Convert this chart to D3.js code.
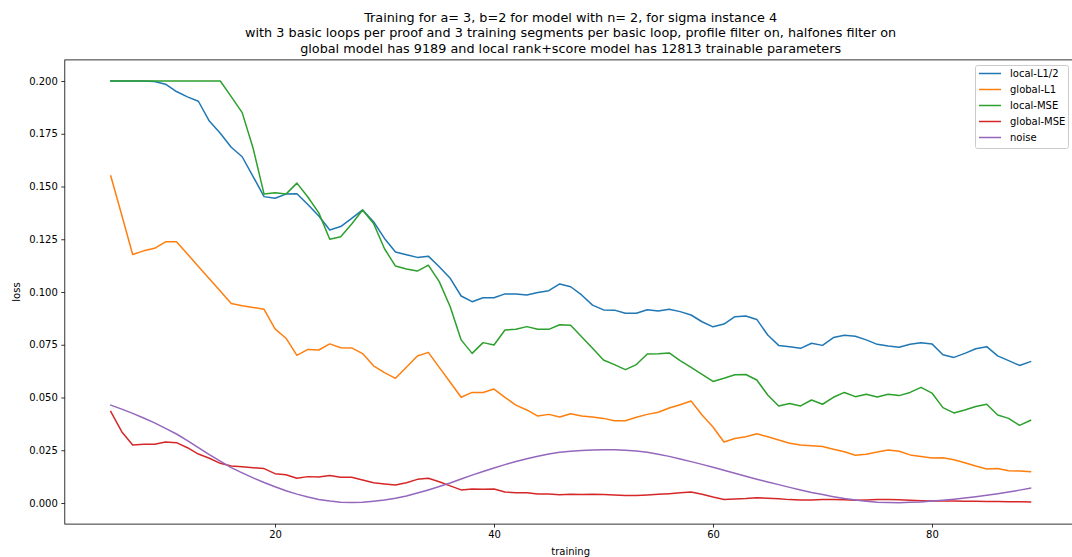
<!DOCTYPE html>
<html><head><meta charset="utf-8">
<script src="https://cdn.jsdelivr.net/npm/d3@7"></script>
<style>
html,body{margin:0;padding:0;background:#fff;overflow:hidden}
svg{display:block;font-family:"DejaVu Sans",sans-serif}
</style></head><body>
<svg id="chart" width="1072" height="557"></svg>
<script>
const titleLines = [
  "Training for a= 3, b=2 for model with n= 2, for sigma instance 4",
  "with 3 basic loops per proof and 3 training segments per basic loop, profile filter on, halfones filter on",
  "global model has 9189 and local rank+score model has 12813 trainable parameters"
];
const xLabel = "training";
const yLabel = "loss";
const steps = [5,6,7,8,9,10,11,12,13,14,15,16,17,18,19,20,21,22,23,24,25,26,27,28,29,30,31,32,33,34,35,36,37,38,39,40,41,42,43,44,45,46,47,48,49,50,51,52,53,54,55,56,57,58,59,60,61,62,63,64,65,66,67,68,69,70,71,72,73,74,75,76,77,78,79,80,81,82,83,84,85,86,87,88,89];
const localL12 = [0.2000,0.2000,0.2000,0.2000,0.1998,0.1985,0.1950,0.1925,0.1904,0.1810,0.1752,0.1686,0.1641,0.1547,0.1452,0.1444,0.1464,0.1466,0.1415,0.1360,0.1294,0.1310,0.1349,0.1389,0.1333,0.1254,0.1190,0.1177,0.1164,0.1170,0.1120,0.1065,0.0981,0.0954,0.0973,0.0973,0.0991,0.0991,0.0986,0.0998,0.1006,0.1038,0.1025,0.0986,0.0938,0.0915,0.0914,0.0899,0.0899,0.0916,0.0910,0.0918,0.0907,0.0891,0.0859,0.0835,0.0848,0.0883,0.0886,0.0870,0.0796,0.0747,0.0741,0.0733,0.0757,0.0747,0.0784,0.0795,0.0790,0.0773,0.0752,0.0744,0.0738,0.0752,0.0760,0.0754,0.0703,0.0690,0.0709,0.0731,0.0741,0.0697,0.0675,0.0652,0.0670];
const globalL1 = [0.1550,0.1365,0.1178,0.1195,0.1207,0.1238,0.1238,0.1180,0.1121,0.1063,0.1005,0.0946,0.0935,0.0927,0.0918,0.0825,0.0781,0.0700,0.0728,0.0725,0.0754,0.0736,0.0735,0.0708,0.0650,0.0618,0.0591,0.0643,0.0697,0.0714,0.0643,0.0572,0.0501,0.0524,0.0524,0.0540,0.0501,0.0464,0.0441,0.0412,0.0420,0.0408,0.0423,0.0412,0.0408,0.0401,0.0390,0.0390,0.0406,0.0420,0.0430,0.0450,0.0466,0.0483,0.0417,0.0360,0.0289,0.0306,0.0314,0.0328,0.0314,0.0299,0.0283,0.0275,0.0271,0.0268,0.0255,0.0243,0.0226,0.0231,0.0242,0.0251,0.0245,0.0228,0.0220,0.0213,0.0214,0.0205,0.0191,0.0175,0.0161,0.0164,0.0153,0.0152,0.0148];
const localMSE = [0.2000,0.2000,0.2000,0.2000,0.2000,0.2000,0.2000,0.2000,0.2000,0.2000,0.2000,0.1926,0.1850,0.1681,0.1464,0.1470,0.1464,0.1516,0.1450,0.1375,0.1250,0.1262,0.1322,0.1389,0.1325,0.1205,0.1123,0.1109,0.1099,0.1127,0.1049,0.0930,0.0773,0.0709,0.0760,0.0749,0.0820,0.0823,0.0836,0.0823,0.0823,0.0845,0.0842,0.0788,0.0733,0.0678,0.0656,0.0632,0.0656,0.0706,0.0707,0.0711,0.0675,0.0643,0.0610,0.0576,0.0591,0.0608,0.0609,0.0583,0.0512,0.0460,0.0472,0.0460,0.0488,0.0468,0.0501,0.0524,0.0504,0.0515,0.0502,0.0515,0.0509,0.0524,0.0548,0.0521,0.0452,0.0427,0.0441,0.0457,0.0468,0.0417,0.0401,0.0368,0.0392];
const globalMSE = [0.0433,0.0338,0.0275,0.0278,0.0278,0.0289,0.0286,0.0262,0.0232,0.0212,0.0188,0.0175,0.0172,0.0167,0.0163,0.0139,0.0134,0.0117,0.0125,0.0123,0.0130,0.0122,0.0122,0.0109,0.0096,0.0090,0.0085,0.0096,0.0112,0.0117,0.0101,0.0081,0.0062,0.0066,0.0065,0.0066,0.0052,0.0049,0.0049,0.0043,0.0043,0.0039,0.0041,0.0040,0.0041,0.0040,0.0038,0.0035,0.0036,0.0038,0.0041,0.0044,0.0048,0.0052,0.0041,0.0028,0.0017,0.0019,0.0021,0.0025,0.0023,0.0020,0.0016,0.0014,0.0014,0.0016,0.0016,0.0015,0.0013,0.0014,0.0016,0.0017,0.0015,0.0013,0.0011,0.0010,0.0009,0.0009,0.0008,0.0008,0.0007,0.0007,0.0006,0.0006,0.0005];
const noise = [0.0464,0.0445,0.0425,0.0403,0.0380,0.0354,0.0327,0.0296,0.0262,0.0229,0.0198,0.0168,0.0143,0.0119,0.0097,0.0077,0.0058,0.0042,0.0028,0.0017,0.0009,0.0004,0.0002,0.0003,0.0008,0.0014,0.0022,0.0033,0.0047,0.0062,0.0078,0.0095,0.0114,0.0132,0.0149,0.0166,0.0182,0.0197,0.0210,0.0222,0.0232,0.0240,0.0245,0.0249,0.0251,0.0252,0.0252,0.0250,0.0246,0.0240,0.0231,0.0221,0.0209,0.0196,0.0183,0.0169,0.0155,0.0141,0.0127,0.0113,0.0100,0.0087,0.0074,0.0062,0.0050,0.0040,0.0030,0.0021,0.0014,0.0008,0.0004,0.0002,0.0001,0.0003,0.0005,0.0009,0.0013,0.0018,0.0024,0.0030,0.0037,0.0044,0.0052,0.0061,0.0070];
const seriesNames = ["local-L1/2","global-L1","local-MSE","global-MSE","noise"];
const seriesValues = [localL12, globalL1, localMSE, globalMSE, noise];
const seriesColors = ["#1f77b4","#ff7f0e","#2ca02c","#d62728","#9467bd"];
const xTicks = [20,40,60,80];
const yTicks = [0,0.025,0.05,0.075,0.1,0.125,0.15,0.175,0.2];

const svg = d3.select("#chart");
const plot = {left:64.8, right:1076.5, top:59.9, bottom:524.1};
const x = d3.scaleLinear().domain([0.8, 93.2]).range([plot.left, plot.right]);
const y = d3.scaleLinear().domain([-0.01, 0.21]).range([plot.bottom, plot.top]);

svg.append("defs").append("clipPath").attr("id","clip")
  .append("rect").attr("x",plot.left).attr("y",plot.top)
  .attr("width",plot.right-plot.left).attr("height",plot.bottom-plot.top);

// title
const cx = (plot.left + plot.right) / 2;
svg.append("g").selectAll("text").data(titleLines).join("text")
  .attr("x", cx).attr("y", (d,i) => 21.8 + i*15.6)
  .attr("text-anchor","middle").attr("font-size","12.8px").attr("fill","#000")
  .text(d => d);

// series lines
const line = d3.line().x((d,i) => x(steps[i])).y(d => y(d));
svg.append("g").attr("clip-path","url(#clip)")
  .selectAll("path").data(seriesValues).join("path")
  .attr("d", d => line(d))
  .attr("fill","none")
  .attr("stroke",(d,i) => seriesColors[i])
  .attr("stroke-width",1.5)
  .attr("stroke-linejoin","round")
  .attr("stroke-linecap","square");

// axes
const xAxis = d3.axisBottom(x).tickValues(xTicks).tickFormat(d3.format("d"))
  .tickSize(3.5).tickPadding(3.5).tickSizeOuter(0);
const gx = svg.append("g").attr("transform",`translate(0,${plot.bottom})`).call(xAxis);
const yAxis = d3.axisLeft(y).tickValues(yTicks).tickFormat(d3.format(".3f"))
  .tickSize(3.5).tickPadding(3.5).tickSizeOuter(0);
const gy = svg.append("g").attr("transform",`translate(${plot.left},0)`).call(yAxis);
[gx, gy].forEach(g => {
  g.select(".domain").remove();
  g.selectAll(".tick line").attr("stroke","#000").attr("stroke-width",0.8);
  g.selectAll(".tick text").attr("font-size","10px").attr("fill","#000")
    .attr("font-family","DejaVu Sans, sans-serif");
});

// spines
svg.append("rect").attr("x",plot.left).attr("y",plot.top)
  .attr("width",plot.right-plot.left).attr("height",plot.bottom-plot.top)
  .attr("fill","none").attr("stroke","#000").attr("stroke-width",0.8);

// axis labels
svg.append("text").attr("x",cx).attr("y",555).attr("text-anchor","middle")
  .attr("font-size","10px").attr("fill","#000").text(xLabel);
svg.append("text").attr("transform",`translate(19.5,${(plot.top+plot.bottom)/2}) rotate(-90)`)
  .attr("text-anchor","middle").attr("font-size","10px").attr("fill","#000").text(yLabel);

// legend
const lg = svg.append("g");
lg.append("rect").attr("x",975.5).attr("y",65.5).attr("width",93).attr("height",83)
  .attr("rx",2).attr("fill","#fff").attr("fill-opacity",0.8)
  .attr("stroke","#cccccc").attr("stroke-width",1);
const rows = lg.selectAll("g.row").data(seriesNames).join("g").attr("class","row")
  .attr("transform",(d,i) => `translate(0,${73.5 + i*16})`);
rows.append("line").attr("x1",979).attr("x2",1001).attr("y1",0).attr("y2",0)
  .attr("stroke",(d,i) => seriesColors[i]).attr("stroke-width",1.5);
rows.append("text").attr("x",1010).attr("y",3.6).attr("font-size","10px").attr("fill","#000")
  .text(d => d);
</script>
</body></html>
